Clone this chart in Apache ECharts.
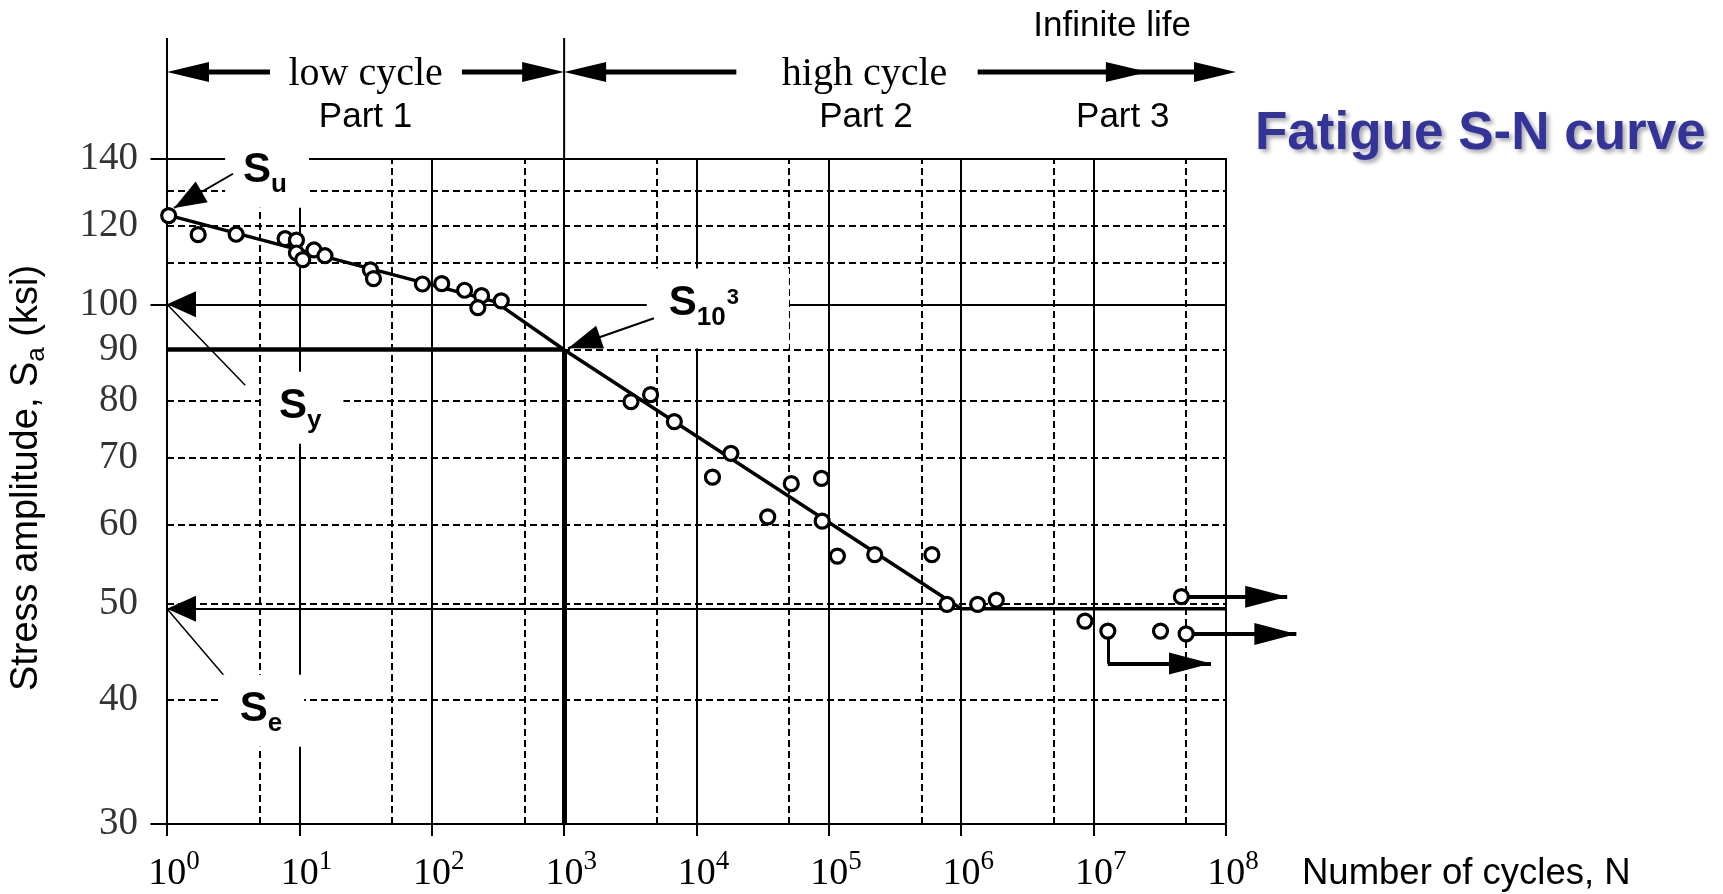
<!DOCTYPE html>
<html><head><meta charset="utf-8">
<script src="https://cdn.jsdelivr.net/npm/echarts@6/dist/echarts.min.js"></script>
<style>html,body{margin:0;padding:0;background:#fff}#c{width:1723px;height:894px}</style>
</head><body><div id="c"></div>
<script>
// ---------------- data ----------------
const X_MIN = 1, X_MAX = 1e8;
const Y_MIN = 30, Y_MAX = 140;
const Y_TICKS = [30, 40, 50, 60, 70, 80, 90, 100, 120, 140];
const GRID_Y_DASHED = [40, 50, 60, 70, 80, 90, 110, 120, 130];
const GRID_X_DASHED = [5, 50, 500, 5e3, 5e4, 5e5, 5e6, 5e7];

// test data, low cycle region
const LOW_N = [1.03, 1.72, 3.33, 7.8, 9.5, 9.5, 10.6, 12.9, 15.6, 34.4, 36.3, 85, 119, 177, 238, 223, 335];
const LOW_S = [122.8, 117.5, 117.6, 116.4, 116.0, 112.6, 110.9, 113.4, 111.9, 108.3, 106.1, 104.8, 104.9, 103.3, 102.0, 99.2, 100.8];
// test data, high cycle / infinite life region
const HIGH_N = [3.2e3, 4.5e3, 6.8e3, 1.32e4, 1.82e4, 3.45e4, 5.2e4, 8.8e4, 8.9e4, 1.16e5, 2.22e5, 6.0e5, 7.8e5, 1.33e6, 1.84e6, 8.6e6, 1.28e7, 3.2e7, 4.6e7, 5.0e7];
const HIGH_S = [79.8, 81.1, 76.2, 67.0, 70.8, 61.1, 66.0, 66.8, 60.5, 55.8, 56.0, 56.0, 49.9, 49.9, 50.4, 48.0, 46.9, 46.9, 50.8, 46.6];

// idealised S-N curve
const CURVE_N = [1, 300, 1000, 1e6, 1e8];
const CURVE_S = [123, 100.6, 90, 49.4, 49.4];

const S_Y = 100, S_1E3 = 90, S_E = 49.4;

// pointer / annotation anchors (data space)
const SU_POINTER = [[3.15, 135.3], [1.13, 125]];
const S1E3_POINTER = [[4770, 96.8], [1070, 90.3]];
const SY_POINTER_END = [3.9, 82.9];
const SE_POINTER_END = [3.1, 41.4];
const RUNOUT_FROM = [[4.6e7, 50.8], [5.0e7, 46.6], [1.28e7, 43.5]];
const RUNOUT_TO_N = [2.9e8, 3.4e8, 7.7e7];
const RUNOUT_DROP = [[1.28e7, 46.9], [1.28e7, 43.5]];

const LABEL_TEXT = ['{s|S}{b|u}', '{s|S}{b|y}', '{s|S}{b|e}', '{s|S}{b|10}{p|3}'];
const LABEL_AT = [[5.7, 135.9], [10.5, 78.7], [5.3, 39.0], [1.45e4, 99.0]];

// section annotations (x in cycles)
const SECTION_BOUNDS = [1, 1000];
const SECTION_ARROWS = [[6, 1], [169, 1000], [2e4, 1000], [1.33e6, 1.19e8]];
const SECTION_MID_HEAD = 2.57e7;
const SECTION_TEXT = [
  {t: 'low cycle', n: Math.pow(10, 1.5), row: 'a', serif: true},
  {t: 'Part 1', n: Math.pow(10, 1.5), row: 'b'},
  {t: 'high cycle', n: Math.pow(10, 5.27), row: 'a', serif: true},
  {t: 'Part 2', n: Math.pow(10, 5.28), row: 'b'},
  {t: 'Part 3', n: Math.pow(10, 7.22), row: 'b'},
  {t: 'Infinite life', n: Math.pow(10, 7.14), row: 'c'}
];

// ---------------- chart ----------------
const ARROW = 'path://M0,0L10,40L-10,40Z M0,-40L0,-40';
const BLACK = '#000';
const SERIF = 'Liberation Serif';
const SANS = 'Liberation Sans';

const plainLines = [];
GRID_Y_DASHED.forEach(v => plainLines.push({coords: [[X_MIN, v], [X_MAX, v]], lineStyle: {type: [7, 4], width: 2}}));
GRID_X_DASHED.forEach(v => plainLines.push({coords: [[v, Y_MIN], [v, Y_MAX]], lineStyle: {type: [7, 4], width: 2}}));
plainLines.push({coords: [[X_MIN, S_Y], [X_MAX, S_Y]], lineStyle: {width: 2}});
plainLines.push({coords: [[X_MIN, S_E], [1e6, S_E]], lineStyle: {width: 2}});
plainLines.push({coords: [[X_MIN, S_1E3], [1000, S_1E3]], lineStyle: {width: 4.5}});
plainLines.push({coords: [[1000, Y_MIN], [1000, S_1E3]], lineStyle: {width: 5}});
[Y_MAX, S_Y, Y_MIN].forEach(v => plainLines.push({coords: [[0.75, v], [X_MIN, v]], lineStyle: {width: 2}}));
plainLines.push({coords: [[X_MIN, S_Y], SY_POINTER_END], lineStyle: {width: 1.5}});
plainLines.push({coords: [[X_MIN, S_E], SE_POINTER_END], lineStyle: {width: 1.5}});
plainLines.push({coords: RUNOUT_DROP, lineStyle: {width: 3}});

const arrowLines = [];
arrowLines.push({coords: SU_POINTER, lineStyle: {width: 2}, symbolSize: [0, [24, 64]]});
arrowLines.push({coords: S1E3_POINTER, lineStyle: {width: 2}, symbolSize: [0, [24, 68]]});
arrowLines.push({coords: [[2.5, S_Y], [X_MIN, S_Y]], lineStyle: {width: 2}, symbolSize: [0, [26, 58]]});
arrowLines.push({coords: [[2.5, S_E], [X_MIN, S_E]], lineStyle: {width: 2}, symbolSize: [0, [26, 58]]});
RUNOUT_FROM.forEach((p, i) => arrowLines.push({coords: [p, [RUNOUT_TO_N[i], p[1]]], lineStyle: {width: 4}, symbolSize: [0, [22, 84]]}));

const noBorder = {textBorderWidth: 0, textBorderColor: 'transparent', textShadowBlur: 0, opacity: 1};
const subRich = {
  s: Object.assign({fontFamily: SANS, fontWeight: 'bold', fontSize: 42, lineHeight: 54, color: BLACK}, noBorder),
  b: Object.assign({fontFamily: SANS, fontWeight: 'bold', fontSize: 26, lineHeight: 22, verticalAlign: 'bottom', color: BLACK}, noBorder),
  p: Object.assign({fontFamily: SANS, fontWeight: 'bold', fontSize: 22, verticalAlign: 'top', padding: [10, 0, 0, 1], color: BLACK}, noBorder)
};
const LABEL_PAD = [[8, 22, 10, 18], [8, 22, 10, 18], [8, 22, 10, 18], [8, 50, 18, 22]];

const option = {
  animation: false,
  backgroundColor: '#fff',
  grid: {left: 167, top: 159, width: 1059, height: 665, show: true, borderColor: BLACK, borderWidth: 2, backgroundColor: 'transparent'},
  xAxis: {
    type: 'log', logBase: 10, min: X_MIN, max: X_MAX,
    axisLine: {show: true, lineStyle: {color: BLACK, width: 2}},
    axisTick: {show: true, length: 12, inside: false, lineStyle: {color: BLACK, width: 2}},
    splitLine: {show: true, lineStyle: {color: BLACK, width: 2, type: 'solid'}},
    minorTick: {show: false}, minorSplitLine: {show: false},
    axisLabel: {
      margin: 24, padding: [0, 0, 0, 14],
      formatter: v => '{b|10}{e|' + Math.round(Math.log10(v)) + '}',
      rich: {
        b: {fontFamily: SERIF, fontSize: 38, lineHeight: 52, color: BLACK},
        e: {fontFamily: SERIF, fontSize: 27, verticalAlign: 'top', color: BLACK}
      }
    }
  },
  yAxis: {
    type: 'log', logBase: 10, min: Y_MIN, max: Y_MAX,
    axisLine: {show: false}, axisTick: {show: false}, axisLabel: {show: false}, splitLine: {show: false}
  },
  series: [
    {type: 'lines', coordinateSystem: 'cartesian2d', clip: false, silent: true, z: 2,
     lineStyle: {color: BLACK, width: 2, opacity: 1, curveness: 0}, data: plainLines},
    {type: 'scatter', clip: false, silent: true, z: 3, symbolSize: 0,
     itemStyle: {color: 'transparent'},
     data: LABEL_AT.map((p, i) => ({value: p, label: {formatter: LABEL_TEXT[i], padding: LABEL_PAD[i]}})),
     label: Object.assign({show: true, position: 'inside', color: BLACK, backgroundColor: '#fff', rich: subRich}, noBorder)},
    {type: 'line', z: 4, silent: true, showSymbol: false, symbol: 'none',
     data: CURVE_N.map((n, i) => [n, CURVE_S[i]]),
     lineStyle: {color: BLACK, width: 3.5}},
    {type: 'lines', coordinateSystem: 'cartesian2d', clip: false, silent: true, z: 5,
     symbol: ['none', ARROW], symbolSize: [0, [22, 84]],
     lineStyle: {color: BLACK, width: 2, opacity: 1, curveness: 0}, data: arrowLines},
    {type: 'scatter', z: 7, silent: true, symbol: 'circle', symbolSize: 14,
     itemStyle: {color: '#fff', borderColor: BLACK, borderWidth: 3.2, opacity: 1},
     data: LOW_N.map((n, i) => [n, LOW_S[i]]).concat(HIGH_N.map((n, i) => [n, HIGH_S[i]]))},
    {type: 'scatter', clip: false, silent: true, z: 8, symbolSize: 0,
     itemStyle: {color: 'transparent'},
     data: Y_TICKS.map(v => [X_MIN, v]),
     label: {show: true, position: 'left', distance: 29, formatter: p => String(p.value[1]),
             fontFamily: SERIF, fontSize: 39, color: BLACK}}
  ]
};

const chart = echarts.init(document.getElementById('c'), null, {renderer: 'canvas'});
chart.setOption(option);

const px = v => chart.convertToPixel({xAxisIndex: 0}, v);
const TOP = 159, EXT_TOP = 38, ROW_A = 72, ROW_B = 117, ROW_C = 26;
const els = [];
SECTION_BOUNDS.forEach(v => els.push({type: 'line', silent: true, shape: {x1: px(v), y1: EXT_TOP, x2: px(v), y2: TOP}, style: {stroke: BLACK, lineWidth: 2}}));
function head(tip, dir, y) {
  els.push({type: 'polygon', silent: true, shape: {points: [[tip, y], [tip - dir * 42, y - 10], [tip - dir * 42, y + 10]]}, style: {fill: BLACK}});
}
SECTION_ARROWS.forEach(a => {
  const x0 = px(a[0]), x1 = px(a[1]), dir = Math.sign(x1 - x0);
  els.push({type: 'line', silent: true, shape: {x1: x0, y1: ROW_A, x2: x1 - dir * 30, y2: ROW_A}, style: {stroke: BLACK, lineWidth: 5}});
  head(x1, dir, ROW_A);
});
head(px(SECTION_MID_HEAD), 1, ROW_A);
SECTION_TEXT.forEach(s => {
  const y = s.row === 'a' ? ROW_A + 2 : (s.row === 'b' ? ROW_B : ROW_C);
  els.push({type: 'text', silent: true, x: px(s.n), y: y,
    style: {text: s.t, fill: BLACK, font: (s.serif ? '40px "' + SERIF + '"' : '35px "' + SANS + '"'),
            textAlign: 'center', align: 'center', textVerticalAlign: 'middle', verticalAlign: 'middle'}});
});
els.push({type: 'text', silent: true, x: 1255, y: 134,
  style: {text: 'Fatigue S-N curve', fill: '#333399', font: 'bold 53px "' + SANS + '"',
          textAlign: 'left', align: 'left', textVerticalAlign: 'middle', verticalAlign: 'middle',
          textShadowColor: 'rgba(0,0,0,0.35)', textShadowBlur: 4, textShadowOffsetX: 3, textShadowOffsetY: 3}});
els.push({type: 'text', silent: true, x: 1302, y: 874,
  style: {text: 'Number of cycles, N', fill: BLACK, font: '36.5px "' + SANS + '"',
          textAlign: 'left', align: 'left', textVerticalAlign: 'middle', verticalAlign: 'middle'}});
els.push({type: 'text', silent: true, x: 27, y: 478, rotation: Math.PI / 2,
  style: {text: 'Stress amplitude, S{a|a} (ksi)', fill: BLACK, font: '38px "' + SANS + '"', lineHeight: 46,
          textAlign: 'center', align: 'center', textVerticalAlign: 'middle', verticalAlign: 'middle',
          rich: {a: {fontFamily: SANS, fontSize: 26, lineHeight: 18, verticalAlign: 'bottom', fill: BLACK}}}});
chart.setOption({graphic: {elements: els}});
</script>
</body></html>
